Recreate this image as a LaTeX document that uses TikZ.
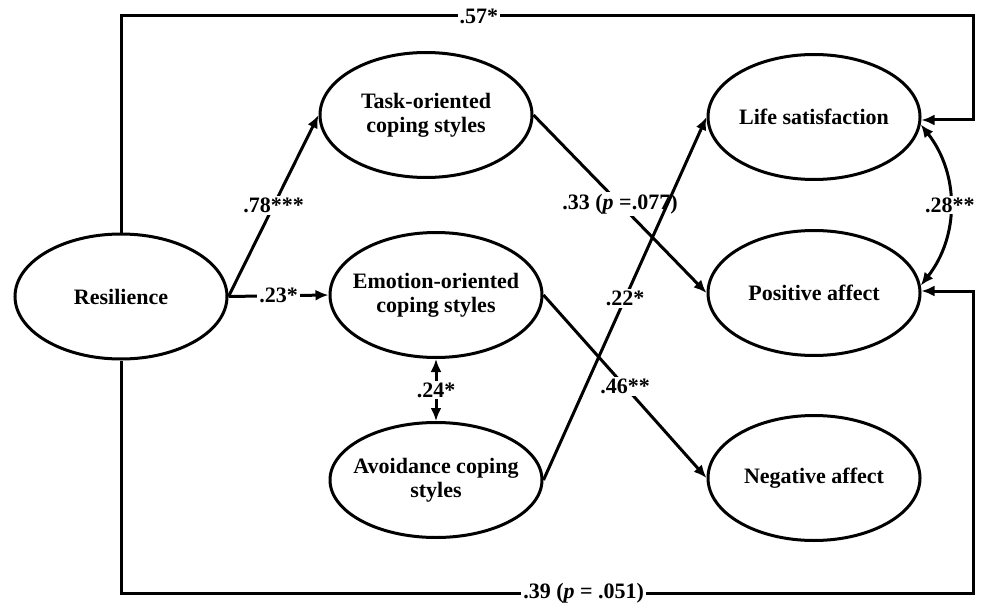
\documentclass[tikz,border=0pt]{standalone}
\usepackage{fontspec}
\setmainfont{Liberation Serif}
\usetikzlibrary{shapes.geometric,arrows.meta}
\begin{document}
\begin{tikzpicture}[x=1pt,y=-1pt,
  lat/.style={ellipse,draw,line width=3pt,minimum width=212pt,minimum height=125pt,inner xsep=-25pt,inner ysep=0pt,align=center,font=\fontsize{22}{24}\selectfont\bfseries},
  pth/.style={line width=3pt,-{Latex[length=13pt,width=11pt]}},
  dbl/.style={line width=3pt,{Latex[length=13pt,width=11pt]}-{Latex[length=13pt,width=11pt]}},
  lab/.style={fill=white,inner sep=2pt,font=\fontsize{22}{24}\selectfont\bfseries}]
\useasboundingbox (0,0) rectangle (987,604);
\node[lat] (R) at (121,296.5) {Resilience};
\node[lat] (T) at (426,115) {Task-oriented\\coping styles};
\node[lat] (E) at (436,295) {Emotion-oriented\\coping styles};
\node[lat,minimum height=115pt] (A) at (436,480) {Avoidance coping\\styles};
\node[lat] (L) at (814,117) {Life satisfaction};
\node[lat] (P) at (814,293) {Positive affect};
\node[lat] (N) at (814,478) {Negative affect};
\coordinate (c1) at (121,16);
\coordinate (c2) at (973,16);
\coordinate (c3) at (973,120);
\coordinate (c4) at (121,593);
\coordinate (c5) at (973,593);
\coordinate (c6) at (973,291);
\draw[pth] (R.north) -- (c1) -- node[lab,pos=0.42]{.57*} (c2) -- (c3) -- (c3 -| L.east);
\draw[pth] (R.south) -- (c4) -- node[lab,pos=0.543]{.39 (\textit{p} = .051)} (c5) -- (c6) -- (c6 -| P.east);
\draw[pth] (R.east) -- node[lab]{.78***} (T.west);
\draw[pth] (R.east) -- node[lab]{.23*} (E.west);
\draw[pth] (T.east) -- node[lab]{.33 (\textit{p} =.077)} (P.west);
\draw[pth] (E.east) -- node[lab]{.46**} (N.west);
\draw[pth] (A.east) -- node[lab]{.22*} (L.west);
\draw[dbl] (E.south) -- node[lab]{.24*} (A.north);
\draw[dbl] (L.-4) to[bend left=38] node[lab]{.28**} (P.4);
\end{tikzpicture}
\end{document}
